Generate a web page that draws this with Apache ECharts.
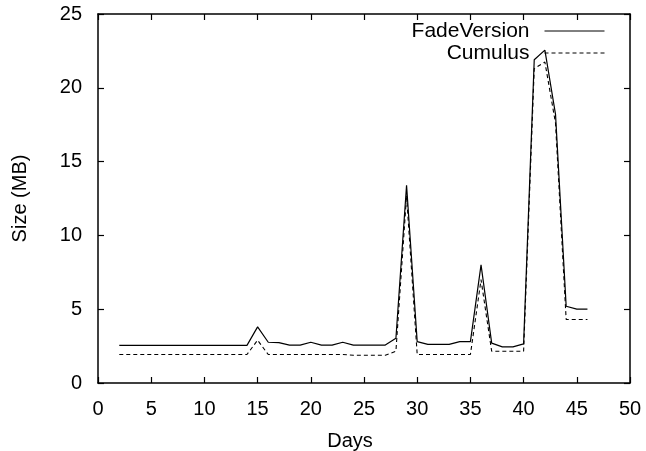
<!DOCTYPE html>
<html>
<head>
<meta charset="utf-8">
<script src="https://cdn.jsdelivr.net/npm/echarts@6/dist/echarts.min.js"></script>
<style>html,body{margin:0;padding:0;background:#fff}#c{width:646px;height:451px}</style>
</head>
<body>
<div id="c"></div>
<script>
const days = [2,3,4,5,6,7,8,9,10,11,12,13,14,15,16,17,18,19,20,21,22,23,24,25,26,27,28,29,30,31,32,33,34,35,36,37,38,39,40,41,42,43,44,45,46];
const fadeVersion = [2.55,2.55,2.55,2.55,2.55,2.55,2.55,2.55,2.55,2.55,2.55,2.55,2.55,3.8,2.76,2.74,2.57,2.57,2.76,2.57,2.57,2.76,2.57,2.57,2.57,2.57,3.03,13.4,2.8,2.62,2.62,2.62,2.8,2.8,8.0,2.7,2.45,2.45,2.65,21.9,22.55,18.2,5.2,5.0,5.0];
const cumulus = [1.93,1.93,1.93,1.93,1.93,1.93,1.93,1.93,1.93,1.93,1.93,1.93,1.93,2.9,1.93,1.93,1.93,1.93,1.93,1.93,1.93,1.93,1.88,1.88,1.88,1.88,2.15,12.7,1.93,1.93,1.93,1.93,1.93,1.93,7.0,2.15,2.15,2.15,2.15,21.3,21.75,17.6,4.3,4.3,4.3];
const xTicks = {min: 0, max: 50, interval: 5};
const yTicks = {min: 0, max: 25, interval: 5};
const seriesNames = ['FadeVersion', 'Cumulus'];

const font = 'Liberation Sans, Arial, Helvetica, sans-serif';
const chart = echarts.init(document.getElementById('c'), null, {renderer: 'canvas'});
const axisLine = {show: true, onZero: false, lineStyle: {color: '#000', width: 1.5}};
const tickIn = {show: true, inside: true, length: 6, lineStyle: {color: '#000', width: 1.2}};
chart.setOption({
  animation: false,
  backgroundColor: '#fff',
  grid: {left: 98, right: 16, top: 14, bottom: 68, containLabel: false, outerBoundsMode: 'none'},
  legend: {
    orient: 'vertical', right: 36, top: 15, align: 'right',
    itemWidth: 60, itemHeight: 12, itemGap: 0,
    itemStyle: {opacity: 0},
    lineStyle: {width: 1},
    textStyle: {fontFamily: font, fontSize: 21, color: '#000', lineHeight: 22, padding: [0, 10, 0, 0]},
    data: seriesNames
  },
  xAxis: [{
    type: 'value', min: xTicks.min, max: xTicks.max, interval: xTicks.interval,
    name: 'Days', nameLocation: 'middle', nameGap: 48,
    nameTextStyle: {fontFamily: font, fontSize: 20, color: '#000', padding: [0, 28, 0, 0]},
    axisLine: axisLine, axisTick: tickIn, splitLine: {show: false},
    axisLabel: {fontFamily: font, fontSize: 20, color: '#000', margin: 16}
  }, {
    type: 'value', position: 'top', min: xTicks.min, max: xTicks.max, interval: xTicks.interval,
    axisLine: axisLine, axisTick: tickIn, splitLine: {show: false}, axisLabel: {show: false}
  }],
  yAxis: [{
    type: 'value', min: yTicks.min, max: yTicks.max, interval: yTicks.interval,
    name: 'Size (MB)', nameLocation: 'middle', nameGap: 68,
    nameTextStyle: {fontFamily: font, fontSize: 20, color: '#000'},
    axisLine: axisLine, axisTick: tickIn, splitLine: {show: false},
    axisLabel: {fontFamily: font, fontSize: 20, color: '#000', margin: 16}
  }, {
    type: 'value', position: 'right', min: yTicks.min, max: yTicks.max, interval: yTicks.interval,
    axisLine: axisLine, axisTick: tickIn, splitLine: {show: false}, axisLabel: {show: false}
  }],
  series: [{
    name: seriesNames[0], type: 'line', symbol: 'none',
    data: days.map((d, i) => [d, fadeVersion[i]]),
    lineStyle: {color: '#000', width: 1.2, type: 'solid'},
    itemStyle: {color: '#000'}
  }, {
    name: seriesNames[1], type: 'line', symbol: 'none',
    data: days.map((d, i) => [d, cumulus[i]]),
    lineStyle: {color: '#000', width: 1.1, type: [4, 3]},
    itemStyle: {color: '#000'}
  }]
});
</script>
</body>
</html>
